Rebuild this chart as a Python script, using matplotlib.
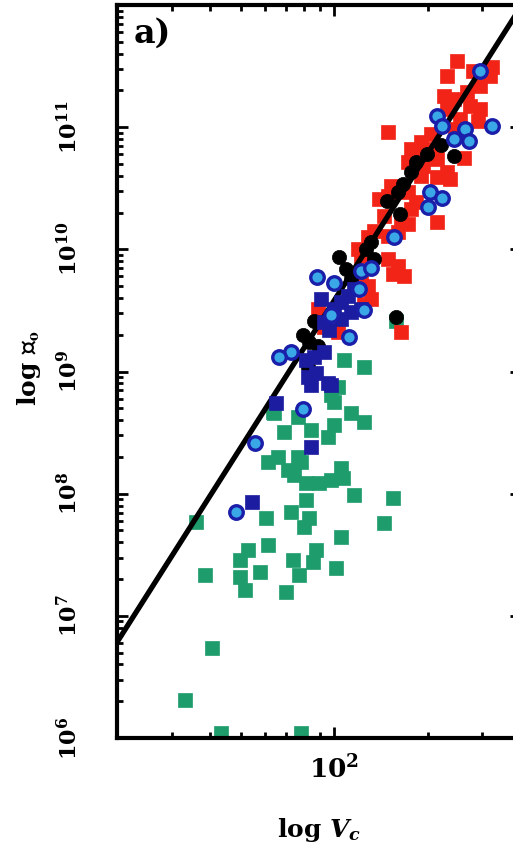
import numpy as np
import matplotlib
matplotlib.use('Agg')
import matplotlib.pyplot as plt
from matplotlib.ticker import LogLocator, NullFormatter, FixedLocator

plt.rcParams['font.family'] = 'DejaVu Serif'
plt.rcParams['font.weight'] = 'bold'
plt.rcParams['mathtext.fontset'] = 'dejavuserif'

# values, in log10 units (log V_c [km/s], log M)
green_logv = [1.554, 1.583, 1.696, 1.724, 1.696, 1.712, 1.760, 1.788, 1.782, 1.846,
              1.869, 1.888, 1.933, 1.942, 2.006, 2.022, 1.904, 1.920, 1.862, 1.910,
              2.160, 2.189, 2.064, 2.029, 1.990, 1.952, 1.910, 1.872, 1.853, 1.894,
              2.022, 1.788, 1.821, 1.885, 1.840, 1.926, 1.981, 2.000, 2.096, 2.054,
              2.000, 1.885, 1.804, 2.013, 1.606, 1.519, 1.635, 1.894, 2.032, 2.096,
              1.990, 2.199, 1.808]
green_logm = [7.770, 7.336, 7.459, 7.541, 7.320, 7.213, 7.361, 7.582, 7.803, 7.197,
              7.459, 7.336, 7.443, 7.541, 7.393, 7.648, 7.730, 7.803, 7.852, 7.951,
              7.762, 7.967, 7.992, 8.131, 8.115, 8.090, 8.090, 8.156, 8.197, 8.262,
              8.213, 8.262, 8.303, 8.303, 8.508, 8.525, 8.467, 8.566, 8.590, 8.664,
              8.754, 8.631, 8.672, 8.877, 6.738, 6.311, 6.040, 6.045, 9.098, 9.041,
              8.811, 9.410, 8.664]

red_logv = [2.397, 2.365, 2.449, 2.510, 2.503, 2.471, 2.429, 2.385, 2.439, 2.471,
            2.462, 2.365, 2.353, 2.173, 2.311, 2.279, 2.269, 2.333, 2.417, 2.365,
            2.333, 2.375, 2.237, 2.279, 2.288, 2.183, 2.173, 2.237, 2.263, 2.160,
            2.215, 2.247, 2.333, 2.128, 2.109, 2.237, 2.205, 2.173, 2.077, 2.173,
            2.205, 2.189, 2.224, 2.109, 2.087, 1.949, 2.119, 2.013, 2.215, 1.968,
            2.096, 2.407, 2.311, 2.391, 2.247, 2.144, 2.199, 2.087]
red_logm = [11.541, 11.418, 11.459, 11.492, 11.418, 11.336, 11.287, 11.230, 11.172, 11.148,
            11.049, 11.148, 11.254, 10.959, 10.943, 10.877, 10.803, 10.738, 10.746, 10.631,
            10.590, 10.574, 10.713, 10.598, 10.680, 10.516, 10.434, 10.467, 10.385, 10.270,
            10.246, 10.328, 10.221, 10.148, 10.098, 10.205, 10.139, 10.107, 10.000, 9.918,
            9.861, 9.795, 9.779, 9.697, 9.754, 9.508, 9.590, 9.320, 9.320, 9.361,
            9.549, 11.066, 10.820, 10.984, 10.820, 10.410, 10.492, 9.943]

bsq_logv = [1.814, 1.926, 1.737, 1.926, 1.990, 1.958, 2.045, 2.000, 2.054, 2.087,
            2.022, 2.064, 1.968, 1.942, 1.981, 1.917, 1.936, 1.968, 1.984, 2.022, 1.910]
bsq_logm = [8.746, 8.385, 7.934, 8.893, 8.893, 9.590, 9.615, 9.508, 9.484, 9.508,
            9.566, 9.672, 9.402, 8.992, 8.910, 8.959, 9.123, 9.156, 9.344, 9.426, 9.098]

bci_logv = [2.471, 2.330, 2.349, 2.510, 2.385, 2.423, 2.436, 2.308, 2.349, 2.301,
            2.192, 2.087, 2.119, 1.946, 2.000, 2.080, 2.096, 1.990, 2.048, 1.862,
            1.824, 1.901, 1.744, 1.683]
bci_logm = [11.459, 11.090, 11.008, 11.008, 10.902, 10.984, 10.885, 10.467, 10.418, 10.344,
            10.098, 9.820, 9.844, 9.770, 9.721, 9.672, 9.500, 9.459, 9.279, 9.156,
            9.115, 8.697, 8.418, 7.852]

blk_logv = [2.346, 2.385, 2.263, 2.247, 2.221, 2.205, 2.170, 2.212, 2.119, 2.103,
            2.128, 2.016, 2.038, 2.054, 1.936, 1.901, 1.920, 1.949, 1.917, 2.199, 2.298]
blk_logm = [10.852, 10.762, 10.713, 10.631, 10.533, 10.467, 10.393, 10.287, 10.057, 10.000,
            9.918, 9.934, 9.836, 9.754, 9.410, 9.303, 9.238, 9.205, 9.041, 9.443, 10.779]

# fitted relation  log M = A + 4 log V
fit_a = 1.58
fit_slope = 4.0

xlo, xhi = 20, 400
ylo, yhi = 1e6, 1e12

fig = plt.figure(figsize=(5.13, 8.55), dpi=100)
ax = fig.add_axes([0.2281, 0.1368, 0.7875, 0.8573])
ax.set_xscale('log')
ax.set_yscale('log')

ax.scatter(10**np.array(green_logv), 10**np.array(green_logm), marker='s', s=100,
           c='#1f9c6c', edgecolors='#1f9c6c', linewidths=0.5, zorder=2)
ax.scatter(10**np.array(red_logv), 10**np.array(red_logm), marker='s', s=100,
           c='#f22418', edgecolors='#f22418', linewidths=0.5, zorder=2)

vv = np.array([xlo, xhi])
ax.plot(vv, 10**(fit_a + fit_slope*np.log10(vv)), 'k-', lw=3.8, zorder=3)

ax.scatter(10**np.array(blk_logv), 10**np.array(blk_logm), marker='o', s=105,
           c='k', edgecolors='k', linewidths=0.5, zorder=4)
ax.scatter(10**np.array(bsq_logv), 10**np.array(bsq_logm), marker='s', s=100,
           c='#1c1ca0', edgecolors='#1c1ca0', linewidths=0.5, zorder=4)
ax.scatter(10**np.array(bci_logv), 10**np.array(bci_logm), marker='o', s=95,
           c='#3aa8e6', edgecolors='#1a1ea8', linewidths=2.4, zorder=5)

ax.set_xlim(xlo, xhi)
ax.set_ylim(ylo, yhi)

for sp in ax.spines.values():
    sp.set_linewidth(3)

ax.tick_params(which='both', direction='in', top=True, right=True, width=2)
ax.tick_params(which='major', length=8)
ax.tick_params(which='minor', length=4)
ax.tick_params(axis='x', which='major', pad=12, labelsize=19)
ax.tick_params(axis='y', which='major', pad=25, labelsize=16)

ax.xaxis.set_major_locator(FixedLocator([100]))
ax.set_xticklabels([r'$\mathbf{10^{2}}$'])
ax.xaxis.set_minor_locator(LogLocator(base=10, subs=np.arange(2, 10)))
ax.xaxis.set_minor_formatter(NullFormatter())

ydec = [1e6, 1e7, 1e8, 1e9, 1e10, 1e11, 1e12]
ax.yaxis.set_major_locator(FixedLocator(ydec))
ax.set_yticklabels([r'$\mathbf{10^{%d}}$' % k for k in range(6, 12)] + [''])
ax.yaxis.set_minor_locator(LogLocator(base=10, subs=np.arange(2, 10)))
ax.yaxis.set_minor_formatter(NullFormatter())
for lab in ax.get_yticklabels():
    lab.set_rotation(90)
    lab.set_va('center')

ax.set_xlabel(r'log $\mathbfit{V}_{\mathbfit{c}}$', fontsize=18, fontweight='bold')
ax.xaxis.set_label_coords(0.5, -0.106)
ax.set_ylabel(r'log $\mathcal{M}_{\mathbf{o}}$', fontsize=18, fontweight='bold',
              math_fontfamily='stix')
ax.yaxis.set_label_coords(-0.183, 0.505)

ax.text(0.087, 0.962, 'a)', transform=ax.transAxes, fontsize=24,
        fontweight='bold', ha='center', va='center')

fig.savefig('out.png', dpi=100)
